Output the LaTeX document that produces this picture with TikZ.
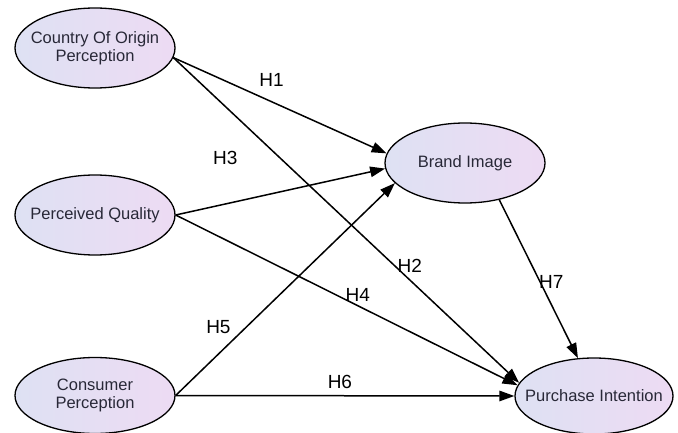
\documentclass[tikz,border=0pt]{standalone}
\usepackage{fontspec}
\setmainfont{Liberation Sans}
\usepackage{tikz}
\usetikzlibrary{shapes.geometric, arrows.meta, positioning}

\definecolor{fillleft}{RGB}{222,225,243}
\definecolor{fillright}{RGB}{237,219,243}
\definecolor{txtgray}{RGB}{40,40,55}

\begin{document}
\begin{tikzpicture}[%
    >={Triangle[length=15pt,width=10.5pt]}, % filled arrow tips
    x=1pt, y=-1pt,                           % one unit = one pixel, y downwards
    line width=1.5pt,                        % connector thickness
    construct/.style={ellipse, draw=black, line width=1.3pt,
        left color=fillleft, right color=fillright,
        minimum width=160pt, minimum height=80pt,
        inner xsep=-16pt, inner ysep=-6pt,
        align=center, text=txtgray, font=\fontsize{16.5}{18.5}\selectfont},
    hyp/.style={text=black, font=\fontsize{19}{21}\selectfont, inner sep=0pt}
]
    \useasboundingbox (0,0) rectangle (678,433);

    % ==========================================
    % 1. Constructs (Nodes)
    % ==========================================
    \node[construct] (coo) at (95, 48)  {Country Of Origin\\Perception};
    \node[construct] (pq)  at (95, 215) {Perceived Quality};
    \node[construct, minimum height=76pt] (cp) at (95, 395.5) {Consumer\\Perception};
    \node[construct] (bi)  at (465, 163) {Brand Image};
    \node[construct, minimum width=158pt, minimum height=76pt] (pi) at (594, 396) {Purchase Intention};

    % ==========================================
    % 2. Hypotheses (Edges)
    % ==========================================
    \path[->]
        % --- Country Of Origin Perception ---
        (coo.-7) edge node[hyp, pos=0.46, yshift=22pt] {H1} (bi.173)
        (coo.-7) edge node[hyp, pos=0.684, yshift=14pt] {H2} (pi.170)

        % --- Perceived Quality ---
        (pq.east) edge node[hyp, pos=0.237, yshift=46pt] {H3} (bi.184)
        (pq.east) edge node[hyp, pos=0.533, yshift=11pt] {H4} (pi.172)

        % --- Consumer Perception ---
        (cp.east) edge node[hyp, pos=0.195, yshift=27pt] {H5} (bi.196)
        (cp.east) edge node[hyp, pos=0.485, yshift=14pt] {H6} (pi.west)

        % --- Brand Image ---
        (bi.-47) edge node[hyp, pos=0.52, xshift=11pt] {H7} (pi.113);

\end{tikzpicture}
\end{document}
